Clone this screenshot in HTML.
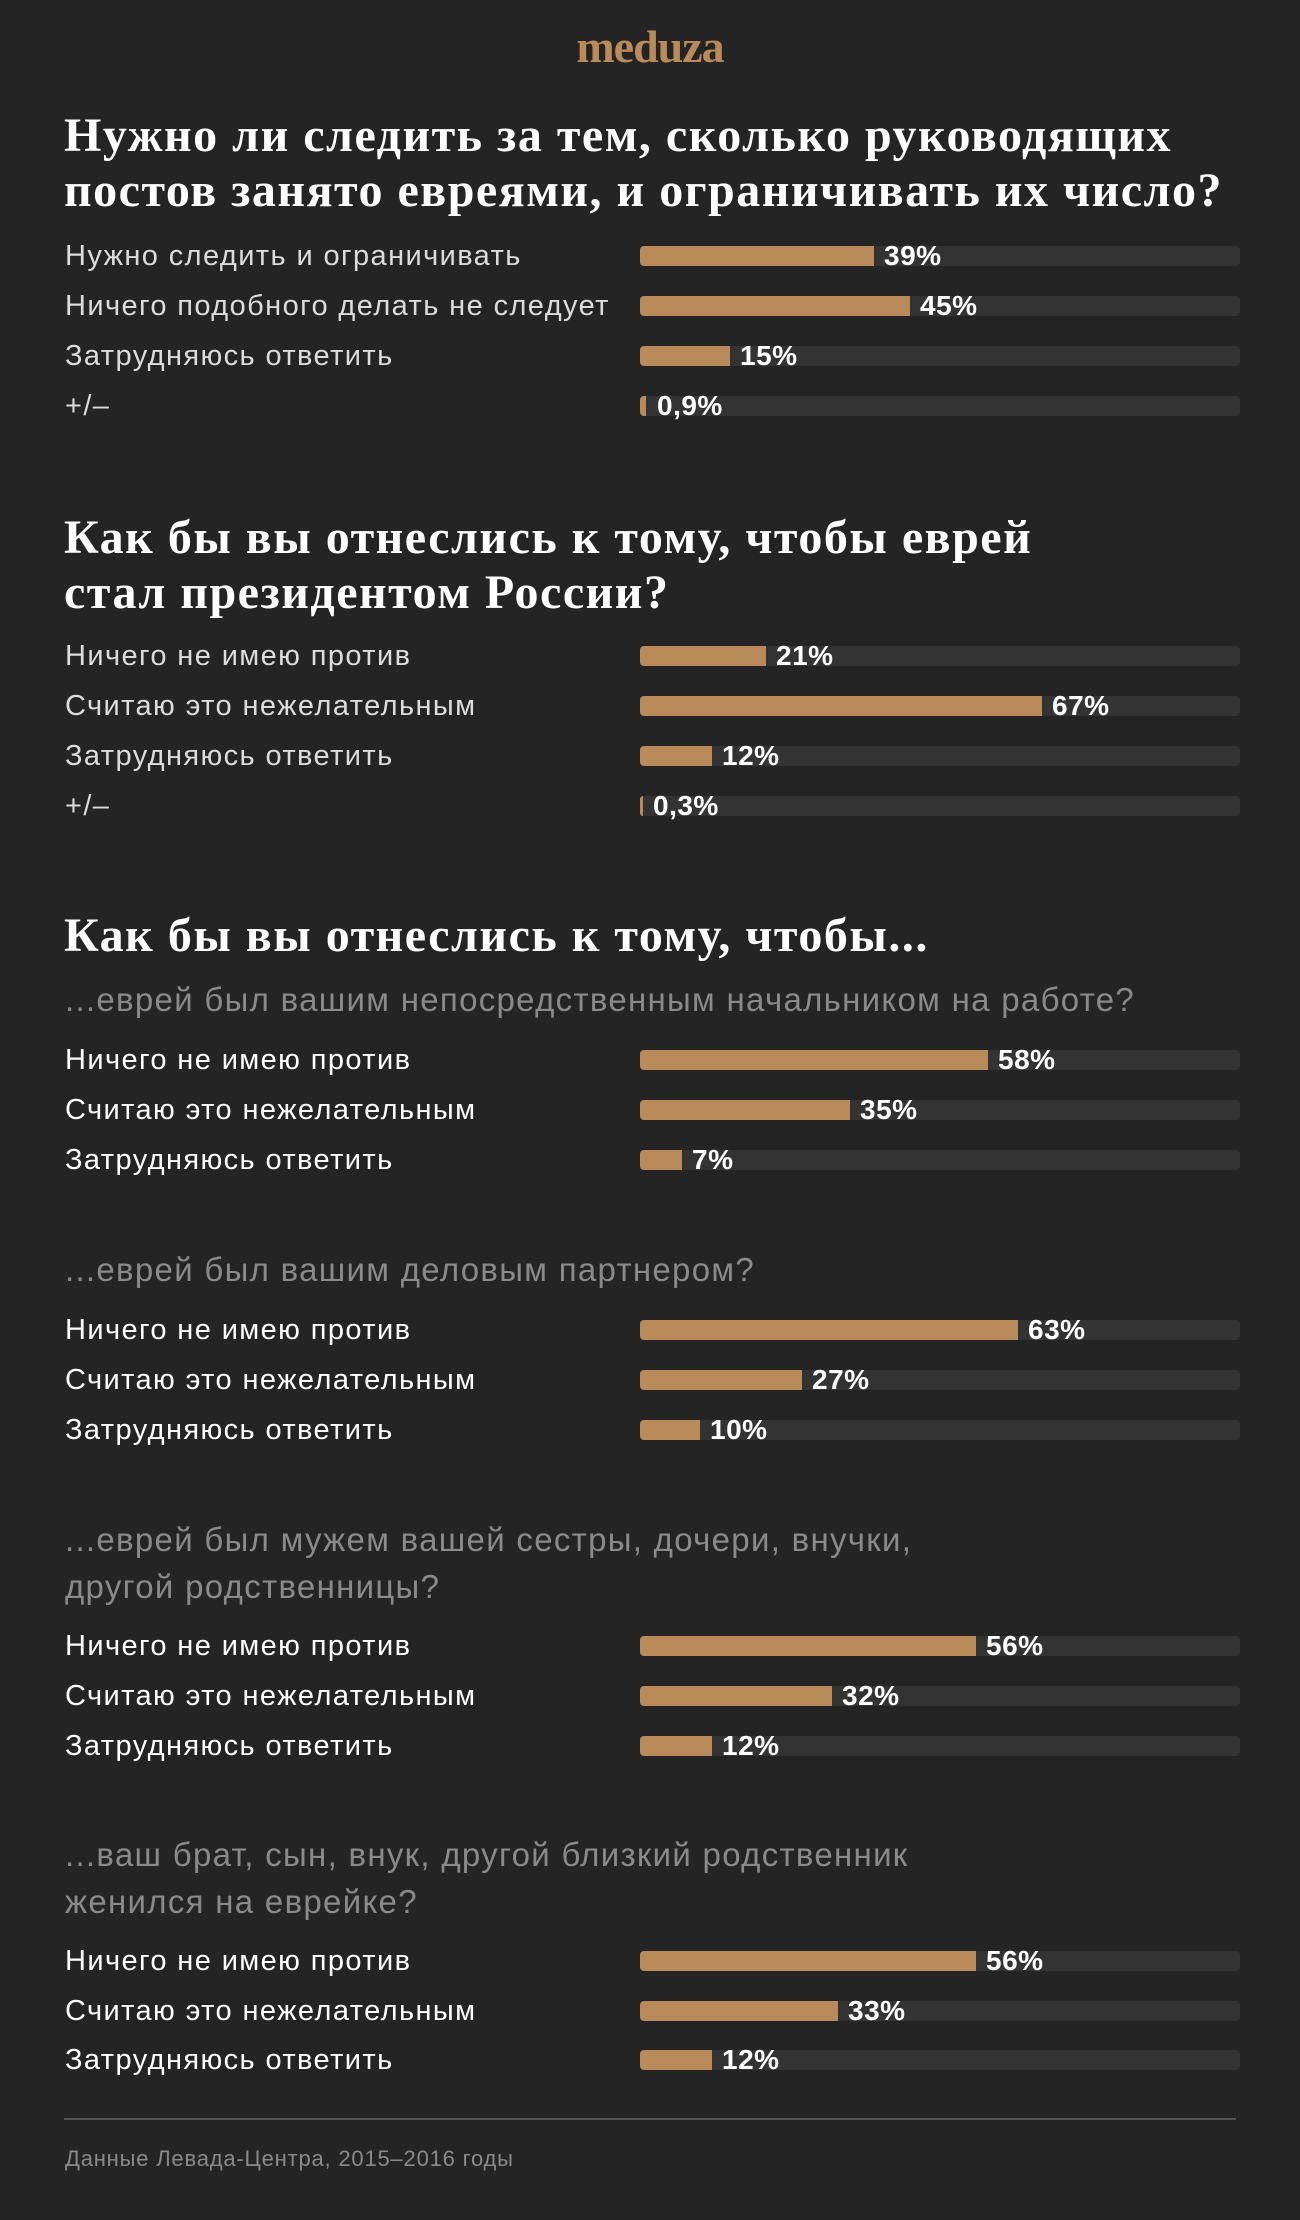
<!DOCTYPE html>
<html><head><meta charset="utf-8"><style>
html,body{margin:0;padding:0}
body{width:1300px;height:2220px;background:#242424;position:relative;overflow:hidden;font-family:"Liberation Sans","DejaVu Sans",sans-serif}
.logo{position:absolute;left:0;width:1300px;top:20px;text-align:center;font-family:"Liberation Serif",serif;font-weight:bold;font-size:46px;color:#b98b5a;letter-spacing:-1px}
.t{position:absolute;left:64px;font-family:"Liberation Serif",serif;font-weight:bold;font-size:48px;color:#fff;line-height:55px;white-space:nowrap;letter-spacing:1.5px}
.s{position:absolute;left:65px;font-size:33px;color:#8a8a8a;line-height:47px;white-space:nowrap;letter-spacing:1.3px}
.l{position:absolute;left:65px;font-size:29px;color:#fff;line-height:30px;white-space:nowrap;letter-spacing:1.4px}
.l.g{color:#dcdcdc}
.tr{position:absolute;left:640px;width:600px;height:20px;background:#333;border-radius:4px}
.b{position:absolute;left:0;top:0;height:20px;background:#b98b5a;border-radius:4px 0 0 4px}
.p{position:absolute;top:-5px;font-size:28px;font-weight:bold;color:#fff;line-height:30px;white-space:nowrap;letter-spacing:0.5px}
.hr{position:absolute;left:64px;width:1172px;top:2118px;height:2px;background:#555}
.f{position:absolute;left:65px;top:2146px;font-size:22px;color:#8a8a8a;line-height:26px;letter-spacing:0.8px}
</style></head><body>
<div class="logo">meduza</div>

<div class="t" style="top:108px">Нужно ли следить за тем, сколько руководящих<br>постов занято евреями, и ограничивать их число?</div>
<div class="l g" style="top:241px">Нужно следить и ограничивать</div><div class="tr" style="top:246px"><div class="b" style="width:234px"></div><div class="p" style="left:244px">39%</div></div>
<div class="l g" style="top:291px">Ничего подобного делать не следует</div><div class="tr" style="top:296px"><div class="b" style="width:270px"></div><div class="p" style="left:280px">45%</div></div>
<div class="l g" style="top:341px">Затрудняюсь ответить</div><div class="tr" style="top:346px"><div class="b" style="width:90px"></div><div class="p" style="left:100px">15%</div></div>
<div class="l g" style="top:391px">+/–</div><div class="tr" style="top:396px"><div class="b" style="width:6px"></div><div class="p" style="left:17px">0,9%</div></div>

<div class="t" style="top:510px">Как бы вы отнеслись к тому, чтобы еврей<br>стал президентом России?</div>
<div class="l g" style="top:641px">Ничего не имею против</div><div class="tr" style="top:646px"><div class="b" style="width:126px"></div><div class="p" style="left:136px">21%</div></div>
<div class="l g" style="top:691px">Считаю это нежелательным</div><div class="tr" style="top:696px"><div class="b" style="width:402px"></div><div class="p" style="left:412px">67%</div></div>
<div class="l g" style="top:741px">Затрудняюсь ответить</div><div class="tr" style="top:746px"><div class="b" style="width:72px"></div><div class="p" style="left:82px">12%</div></div>
<div class="l g" style="top:791px">+/–</div><div class="tr" style="top:796px"><div class="b" style="width:3px"></div><div class="p" style="left:13px">0,3%</div></div>

<div class="t" style="top:908px">Как бы вы отнеслись к тому, чтобы...</div>
<div class="s" style="top:976px">...еврей был вашим непосредственным начальником на работе?</div>
<div class="l" style="top:1045px">Ничего не имею против</div><div class="tr" style="top:1050px"><div class="b" style="width:348px"></div><div class="p" style="left:358px">58%</div></div>
<div class="l" style="top:1095px">Считаю это нежелательным</div><div class="tr" style="top:1100px"><div class="b" style="width:210px"></div><div class="p" style="left:220px">35%</div></div>
<div class="l" style="top:1145px">Затрудняюсь ответить</div><div class="tr" style="top:1150px"><div class="b" style="width:42px"></div><div class="p" style="left:52px">7%</div></div>

<div class="s" style="top:1246px">...еврей был вашим деловым партнером?</div>
<div class="l" style="top:1315px">Ничего не имею против</div><div class="tr" style="top:1320px"><div class="b" style="width:378px"></div><div class="p" style="left:388px">63%</div></div>
<div class="l" style="top:1365px">Считаю это нежелательным</div><div class="tr" style="top:1370px"><div class="b" style="width:162px"></div><div class="p" style="left:172px">27%</div></div>
<div class="l" style="top:1415px">Затрудняюсь ответить</div><div class="tr" style="top:1420px"><div class="b" style="width:60px"></div><div class="p" style="left:70px">10%</div></div>

<div class="s" style="top:1516px">...еврей был мужем вашей сестры, дочери, внучки,<br>другой родственницы?</div>
<div class="l" style="top:1631px">Ничего не имею против</div><div class="tr" style="top:1636px"><div class="b" style="width:336px"></div><div class="p" style="left:346px">56%</div></div>
<div class="l" style="top:1681px">Считаю это нежелательным</div><div class="tr" style="top:1686px"><div class="b" style="width:192px"></div><div class="p" style="left:202px">32%</div></div>
<div class="l" style="top:1731px">Затрудняюсь ответить</div><div class="tr" style="top:1736px"><div class="b" style="width:72px"></div><div class="p" style="left:82px">12%</div></div>

<div class="s" style="top:1831px">...ваш брат, сын, внук, другой близкий родственник<br>женился на еврейке?</div>
<div class="l" style="top:1946px">Ничего не имею против</div><div class="tr" style="top:1951px"><div class="b" style="width:336px"></div><div class="p" style="left:346px">56%</div></div>
<div class="l" style="top:1996px">Считаю это нежелательным</div><div class="tr" style="top:2001px"><div class="b" style="width:198px"></div><div class="p" style="left:208px">33%</div></div>
<div class="l" style="top:2045px">Затрудняюсь ответить</div><div class="tr" style="top:2050px"><div class="b" style="width:72px"></div><div class="p" style="left:82px">12%</div></div>

<div class="hr"></div>
<div class="f">Данные Левада-Центра, 2015–2016 годы</div>
</body></html>
